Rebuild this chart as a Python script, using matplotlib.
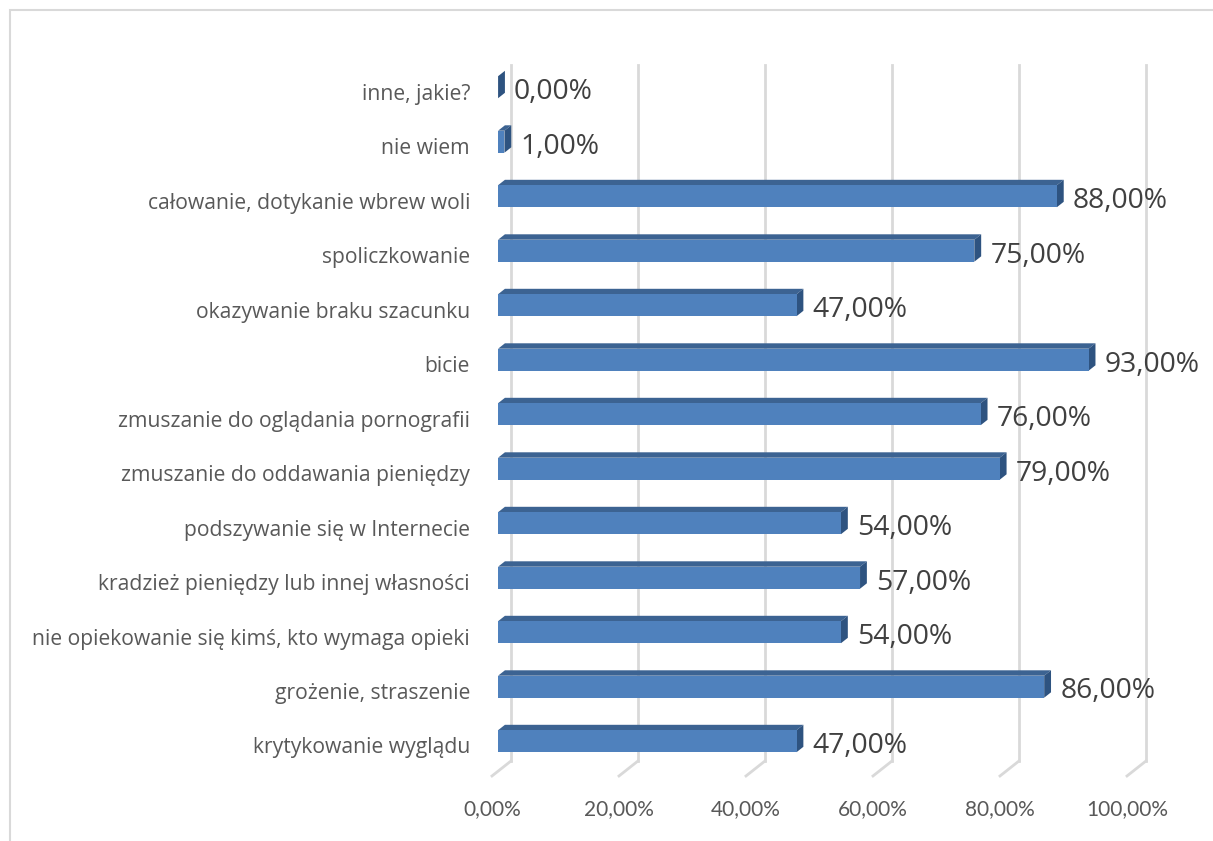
import matplotlib.pyplot as plt
from matplotlib.patches import Polygon, Rectangle

# categories from bottom to top
categories = [
    "krytykowanie wyglądu",
    "grożenie, straszenie",
    "nie opiekowanie się kimś, kto wymaga opieki",
    "kradzież pieniędzy lub innej własności",
    "podszywanie się w Internecie",
    "zmuszanie do oddawania pieniędzy",
    "zmuszanie do oglądania pornografii",
    "bicie",
    "okazywanie braku szacunku",
    "spoliczkowanie",
    "całowanie, dotykanie wbrew woli",
    "nie wiem",
    "inne, jakie?",
]
values = [47, 86, 54, 57, 54, 79, 76, 93, 47, 75, 88, 1, 0]
ticks = [0, 20, 40, 60, 80, 100]
tick_labels = ["0,00%", "20,00%", "40,00%", "60,00%", "80,00%", "100,00%"]

W, H = 1213, 841
fig = plt.figure(figsize=(W / 100, H / 100), dpi=100)

# axes: front plane, 0% at x=492 px, 100% at 1127 px; category 0 at y=746, 12 at y=92
px_x = 6.35   # px per percent
px_y = 54.5   # px per category
left = 492 / W
width = 100 * px_x / W
ymin, ymax = -0.55, 12.5
bottom = (H - (746 + (-ymin) * px_y)) / H
height = (ymax - ymin) * px_y / H
ax = fig.add_axes([left, bottom, width, height])
ax.set_xlim(0, 100)
ax.set_ylim(ymin, ymax)
ax.axis("off")

# depth projection (full wall depth) in data units
DX = 19 / px_x
DY = 15 / px_y

def proj(x, y, d):
    return (x + d * DX, y + d * DY)

grid_col = "#d9d9d9"
floor = ymin
top = 12.5
for t in ticks:
    bx, by = proj(t, floor, 1)
    ax.plot([bx, bx], [by, top], color=grid_col, lw=2, clip_on=False, zorder=1)
    fx, fy = proj(t, floor, 0)
    ax.plot([fx, bx], [fy, by], color=grid_col, lw=2, clip_on=False, zorder=1)

for t, lab in zip(ticks, tick_labels):
    ax.text(t, floor - 33 / px_y, lab, ha="center", va="center",
            fontsize=15, color="#595959", family="Lato", clip_on=False)

front_col = "#4f81bd"
top_col = "#3c6392"
side_col = "#2e5380"
d0, d1 = 0.32, 0.68
bh = 22 / px_y

for i, (cat, v) in enumerate(zip(categories, values)):
    y0 = i - bh / 2
    y1 = i + bh / 2
    # top face
    ax.add_patch(Polygon([proj(0, y1, d0), proj(v, y1, d0), proj(v, y1, d1), proj(0, y1, d1)],
                         closed=True, facecolor=top_col, edgecolor="none", zorder=3, clip_on=False))
    # side face
    ax.add_patch(Polygon([proj(v, y0, d0), proj(v, y1, d0), proj(v, y1, d1), proj(v, y0, d1)],
                         closed=True, facecolor=side_col, edgecolor="none", zorder=3, clip_on=False))
    # front face
    if v > 0:
        ax.add_patch(Polygon([proj(0, y0, d0), proj(v, y0, d0), proj(v, y1, d0), proj(0, y1, d0)],
                             closed=True, facecolor=front_col, edgecolor="none", zorder=4, clip_on=False))
    lx, _ = proj(v, i, d0)
    ax.text(lx + 16 / px_x, i, f"{v:.2f}%".replace(".", ","), ha="left", va="center",
            fontsize=20.3, color="#404040", family="Open Sans", clip_on=False, zorder=5)
    ax.text(-22 / px_x, i - 2 / px_y, cat, ha="right", va="center",
            fontsize=15.2, color="#595959", family="Open Sans", clip_on=False)

# chart border
fig.add_artist(Rectangle((10 / W, -0.05), 1.1, (H - 10) / H + 0.05, transform=fig.transFigure,
                         facecolor="none", edgecolor="#d9d9d9", lw=1.5))

fig.savefig("out.png", dpi=100)
